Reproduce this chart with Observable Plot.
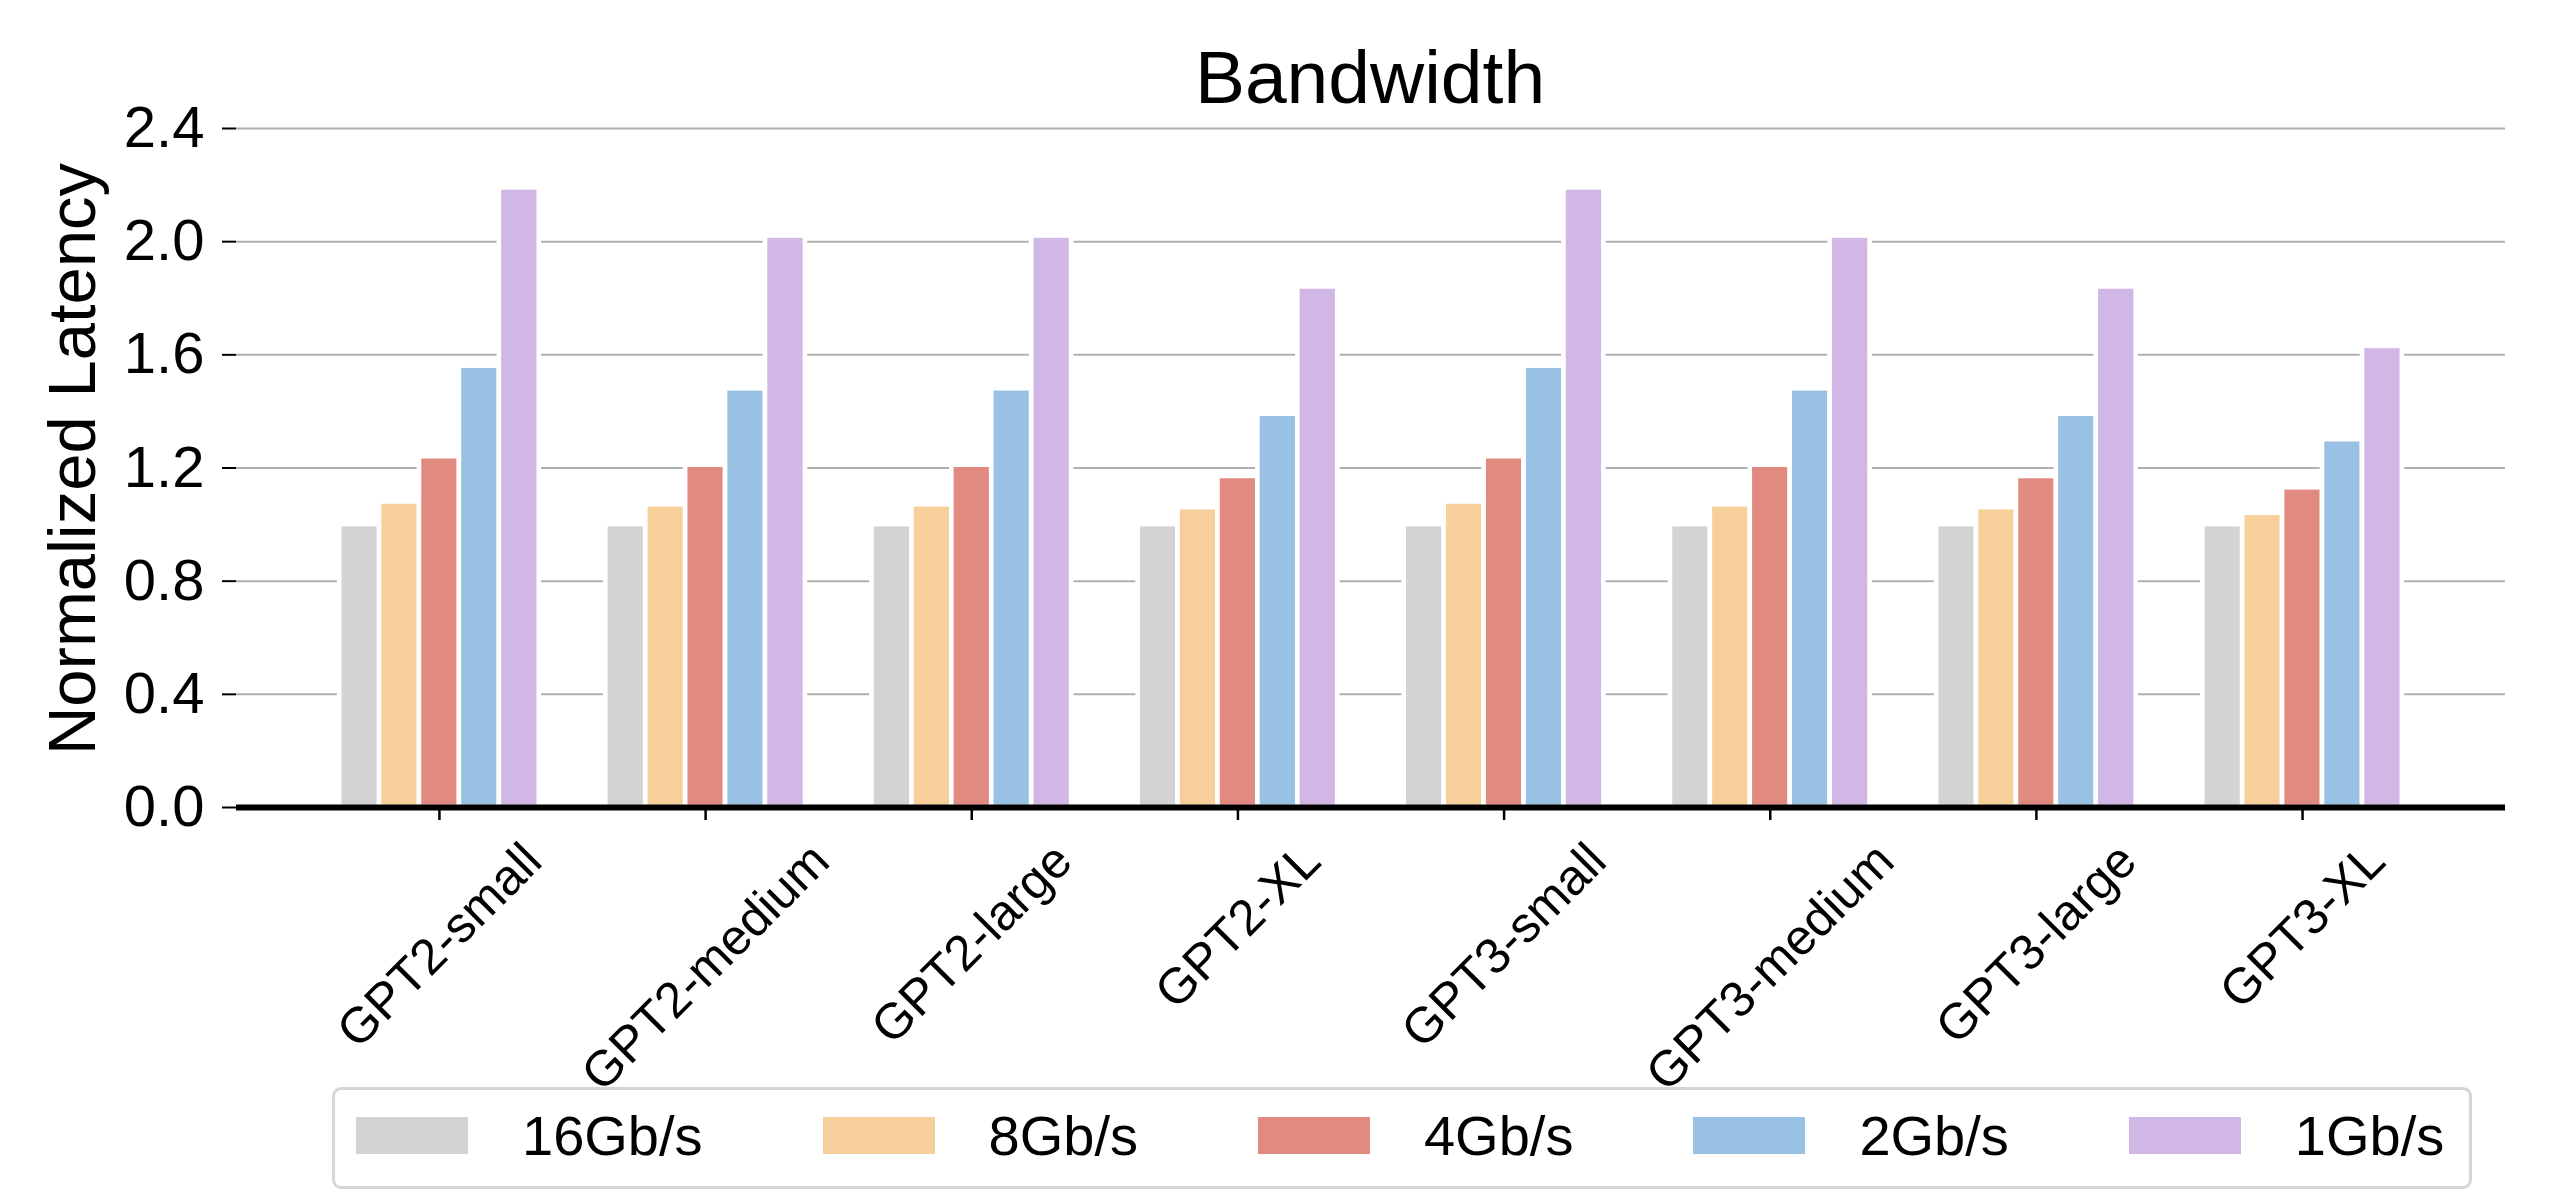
<!DOCTYPE html>
<html><head><meta charset="utf-8">
<script src="https://cdn.jsdelivr.net/npm/d3@7"></script>
<script src="https://cdn.jsdelivr.net/npm/@observablehq/plot@0.6"></script>
<style>
body{margin:0;background:#fff;font-family:"Liberation Sans",Arial,sans-serif;color:#000;}
#wrap{width:2550px;position:relative;}
#title{height:100px;box-sizing:border-box;padding-left:190px;padding-top:40px;text-align:center;font-size:75px;line-height:75px;overflow:visible;position:relative;z-index:2;}
#legend{margin-left:332px;width:2140px;height:102px;box-sizing:border-box;border:3.5px solid #d6d6d6;border-radius:9px;display:flex;align-items:center;padding-left:21px;padding-bottom:6px;font-size:56px;}
.item{display:flex;align-items:center;margin-right:120px;}
.sw{width:112px;height:37px;margin-right:54px;}
</style></head><body>
<div id="wrap">
<div id="title">Bandwidth</div>
<div id="chart"></div>
<div id="legend"></div>
</div>
<script>
const models = ["GPT2-small","GPT2-medium","GPT2-large","GPT2-XL","GPT3-small","GPT3-medium","GPT3-large","GPT3-XL"];
const seriesNames = ["16Gb/s","8Gb/s","4Gb/s","2Gb/s","1Gb/s"];
const seriesColors = ["#d3d3d3","#f7cf9b","#e08a80","#98c1e3","#d1b7e6"];
const v16 = [1.00,1.00,1.00,1.00,1.00,1.00,1.00,1.00];
const v8  = [1.08,1.07,1.07,1.06,1.08,1.07,1.06,1.04];
const v4  = [1.24,1.21,1.21,1.17,1.24,1.21,1.17,1.13];
const v2  = [1.56,1.48,1.48,1.39,1.56,1.48,1.39,1.30];
const v1  = [2.19,2.02,2.02,1.84,2.19,2.02,1.84,1.63];
const yTicks = [0,0.4,0.8,1.2,1.6,2.0,2.4];
const yLabel = "Normalized Latency";

const seriesValues = [v16,v8,v4,v2,v1];
const rows = [];
seriesValues.forEach((vals, si) => vals.forEach((v, mi) => rows.push({model: models[mi], mi, series: seriesNames[si], si, value: v})));
const barW = 0.15;

const svg = Plot.plot({
  width: 2550,
  height: 987,
  marginTop: 28,
  marginBottom: 280,
  marginLeft: 236,
  marginRight: 45,
  style: {fontFamily: '"Liberation Sans", Arial, sans-serif', fontSize: "58px", overflow: "visible", background: "transparent"},
  x: {domain: [-0.7625, 7.7625]},
  y: {domain: [0, 2.4]},
  color: {domain: seriesNames, range: seriesColors},
  marks: [
    Plot.ruleY(yTicks.slice(1), {stroke: "#b0b0b0", strokeWidth: 2}),
    Plot.rectY(rows, {
      x1: d => d.mi + (d.si - 2.5) * barW,
      x2: d => d.mi + (d.si - 1.5) * barW,
      y1: 0, y2: "value",
      fill: "series", stroke: "white", strokeWidth: 4.6
    }),
    Plot.ruleY([0], {stroke: "black", strokeWidth: 6}),
    Plot.axisY(yTicks, {tickFormat: d3.format(".1f"), tickSize: 14, tickPadding: 18, strokeWidth: 2, fontSize: 58, label: null}),
    Plot.axisX(d3.range(models.length), {tickFormat: i => models[i], tickSize: 13, tickPadding: 20, tickRotate: -45, textAnchor: "middle", strokeWidth: 2.5, fontSize: 50, label: null}),
    Plot.text([yLabel], {text: d => d, frameAnchor: "left", textAnchor: "middle", lineAnchor: "middle", rotate: -90, dx: -163, dy: -9, fontSize: 67})
  ]
});
document.getElementById("chart").append(svg);

// matplotlib-style placement of rotated x labels: bbox centred on tick, top aligned
const xScale = svg.scale("x");
const sr = svg.getBoundingClientRect();
const labels = svg.querySelectorAll('g[aria-label="x-axis tick label"] text');
labels.forEach((t, k) => {
  const r = t.getBoundingClientRect();
  const cx = r.left + r.width / 2 - sr.left;
  const top = r.top - sr.top;
  const dx = xScale.apply(k) - cx;
  const dy = 732 - top;
  t.setAttribute("transform", `translate(${dx},${dy}) ` + (t.getAttribute("transform") || ""));
});

const legend = document.getElementById("legend");
seriesNames.forEach((name, i) => {
  const it = document.createElement("div");
  it.className = "item";
  const sw = document.createElement("div");
  sw.className = "sw";
  sw.style.background = seriesColors[i];
  const tx = document.createElement("span");
  tx.textContent = name;
  it.append(sw, tx);
  legend.append(it);
});
</script>
</body></html>
